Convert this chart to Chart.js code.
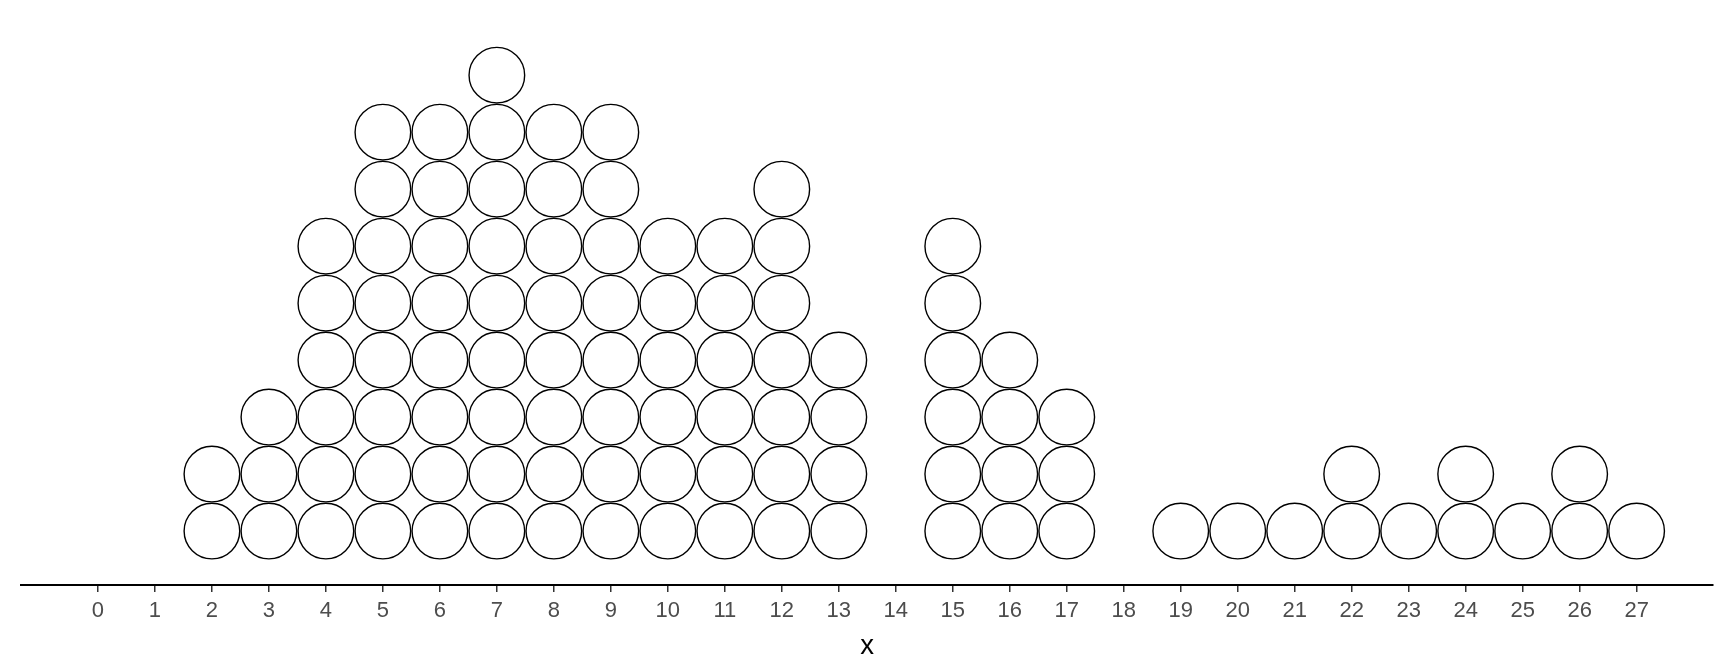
<!DOCTYPE html>
<html>
<head>
<meta charset="utf-8">
<script src="https://cdn.jsdelivr.net/npm/chart.js@4/dist/chart.umd.min.js"></script>
<style>
  html, body { margin: 0; padding: 0; background: #ffffff; }
  #wrap { width: 1728px; height: 672px; }
</style>
</head>
<body>
<div id="wrap"><canvas id="c" width="1728" height="672"></canvas></div>
<script>
// Data: x values and number of stacked dots at each
const xValues = [2, 3, 4, 5, 6, 7, 8, 9, 10, 11, 12, 13, 15, 16, 17, 19, 20, 21, 22, 23, 24, 25, 26, 27];
const dotCounts = [2, 3, 6, 8, 8, 9, 8, 8, 6, 6, 7, 4, 6, 4, 3, 1, 1, 1, 2, 1, 2, 1, 2, 1];
const tickValues = [0,1,2,3,4,5,6,7,8,9,10,11,12,13,14,15,16,17,18,19,20,21,22,23,24,25,26,27];
const xTitle = 'x';

const points = [];
xValues.forEach((xv, i) => {
  for (let k = 1; k <= dotCounts[i]; k++) points.push({ x: xv, y: k });
});

new Chart(document.getElementById('c'), {
  type: 'scatter',
  data: {
    datasets: [{
      data: points,
      pointRadius: 27.8,
      pointHoverRadius: 27.8,
      pointBorderWidth: 1.4,
      pointBorderColor: '#000000',
      pointBackgroundColor: 'rgba(0,0,0,0)',
      pointStyle: 'circle',
      clip: false
    }]
  },
  options: {
    responsive: false,
    animation: false,
    events: [],
    layout: { autoPadding: false, padding: { left: 21, right: 15, top: 0, bottom: 0 } },
    plugins: { legend: { display: false }, tooltip: { enabled: false } },
    scales: {
      x: {
        type: 'linear',
        min: -1.35,
        max: 28.34,
        afterBuildTicks: (scale) => { scale.ticks = tickValues.map(v => ({ value: v })); },
        afterFit: (scale) => { scale.height = 87; scale.paddingLeft = 0; scale.paddingRight = 0; },
        grid: {
          drawOnChartArea: false,
          drawTicks: true,
          tickLength: 7,
          tickColor: '#333333',
          lineWidth: 1.5
        },
        border: { display: true, color: '#000000', width: 2 },
        ticks: {
          autoSkip: false,
          maxRotation: 0,
          padding: 6,
          color: '#4D4D4D',
          font: { family: '"Liberation Sans", Arial, sans-serif', size: 22 },
          callback: (v) => String(v)
        },
        title: {
          display: true,
          text: xTitle,
          color: '#000000',
          font: { family: '"Liberation Sans", Arial, sans-serif', size: 27.5 },
          padding: { top: 4, bottom: 9 }
        }
      },
      y: {
        type: 'linear',
        display: false,
        min: 0.053,
        max: 10.32
      }
    }
  }
});
</script>
</body>
</html>
